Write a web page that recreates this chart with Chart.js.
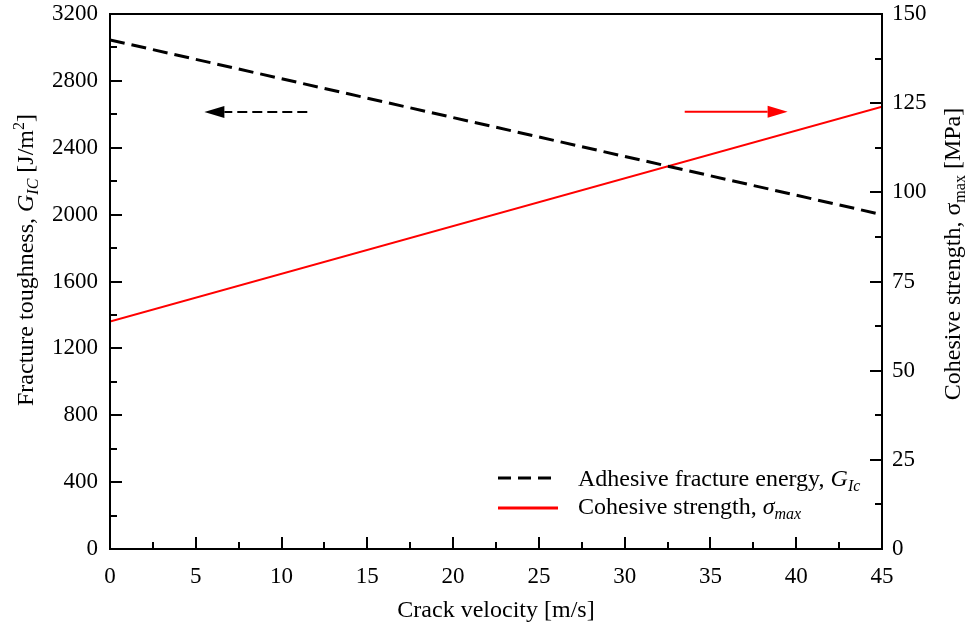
<!DOCTYPE html>
<html><head><meta charset="utf-8">
<script src="https://cdn.jsdelivr.net/npm/chart.js@4"></script>
<style>html,body{margin:0;padding:0;background:#fff}#c{display:block}</style>
</head><body>
<canvas id="c" width="966" height="626"></canvas>
<script>
const velocity = [0, 45];
const fractureEnergy = [3045, 2000];      // J/m^2, left axis
const cohesiveStrength = [63.8, 124];     // MPa, right axis
const xTicks = [0, 5, 10, 15, 20, 25, 30, 35, 40, 45];
const leftTicks = [0, 400, 800, 1200, 1600, 2000, 2400, 2800, 3200];
const rightTicks = [0, 25, 50, 75, 100, 125, 150];
const arrowLeft = {from: 11.5, to: 5.5, y: 2614};
const arrowRight = {from: 33.5, to: 39.5, y: 122.6};

const FONT = '"Liberation Serif", "Times New Roman", serif';
const BASE = 24, SMALL = 16;

function richText(ctx, parts, x, y, align) {
  const widths = parts.map(p => {
    const s = (p.sub || p.sup) ? SMALL : BASE;
    ctx.font = (p.italic ? 'italic ' : '') + s + 'px ' + FONT;
    return ctx.measureText(p.t).width;
  });
  const total = widths.reduce((a, b) => a + b, 0);
  let cx = align === 'center' ? x - total / 2 : x;
  parts.forEach((p, i) => {
    const s = (p.sub || p.sup) ? SMALL : BASE;
    ctx.font = (p.italic ? 'italic ' : '') + s + 'px ' + FONT;
    ctx.textAlign = 'left';
    ctx.textBaseline = 'alphabetic';
    let dy = 0;
    if (p.sub) dy = 5;
    if (p.sup) dy = -9;
    ctx.fillText(p.t, cx, y + dy);
    cx += widths[i];
  });
}

function arrow(ctx, x1, x2, y, color, dash) {
  const dir = Math.sign(x2 - x1);
  const headLen = 20, headW = 6;
  ctx.save();
  ctx.strokeStyle = color; ctx.fillStyle = color; ctx.lineWidth = 2;
  ctx.setLineDash(dash);
  ctx.beginPath(); ctx.moveTo(x1, y); ctx.lineTo(x2 - dir * headLen, y); ctx.stroke();
  ctx.setLineDash([]);
  ctx.beginPath();
  ctx.moveTo(x2, y);
  ctx.lineTo(x2 - dir * headLen, y - headW);
  ctx.lineTo(x2 - dir * headLen, y + headW);
  ctx.closePath(); ctx.fill();
  ctx.restore();
}

const decor = {
  id: 'decor',
  afterDraw(chart) {
    const ctx = chart.ctx;
    const a = chart.chartArea;
    const xs = chart.scales.x, yl = chart.scales.y, yr = chart.scales.y1;
    ctx.save();
    ctx.strokeStyle = '#000'; ctx.lineWidth = 2;
    ctx.beginPath();
    for (let v = 0; v <= 45.001; v += 2.5) {
      const px = Math.round(xs.getPixelForValue(v));
      const major = Math.abs(v % 5) < 1e-6;
      const L = major ? 12 : 7;
      ctx.moveTo(px, a.bottom); ctx.lineTo(px, a.bottom - L);
    }
    for (let v = 0; v <= 3200.1; v += 200) {
      const py = Math.round(yl.getPixelForValue(v));
      const L = (v % 400 === 0) ? 12 : 7;
      ctx.moveTo(a.left, py); ctx.lineTo(a.left + L, py);
    }
    for (let v = 0; v <= 150.1; v += 12.5) {
      const py = Math.round(yr.getPixelForValue(v));
      const L = (v % 25 === 0) ? 12 : 7;
      ctx.moveTo(a.right, py); ctx.lineTo(a.right - L, py);
    }
    ctx.stroke();
    ctx.strokeRect(a.left, a.top, a.right - a.left, a.bottom - a.top);

    arrow(ctx, xs.getPixelForValue(arrowLeft.from), xs.getPixelForValue(arrowLeft.to),
          yl.getPixelForValue(arrowLeft.y), '#000', [10, 5]);
    arrow(ctx, xs.getPixelForValue(arrowRight.from), xs.getPixelForValue(arrowRight.to),
          yr.getPixelForValue(arrowRight.y), '#ff0000', []);

    // legend
    ctx.lineWidth = 3; ctx.strokeStyle = '#000'; ctx.setLineDash([13, 7]);
    ctx.beginPath(); ctx.moveTo(498, 478); ctx.lineTo(558, 478); ctx.stroke();
    ctx.setLineDash([]); ctx.strokeStyle = '#ff0000'; ctx.lineWidth = 3;
    ctx.beginPath(); ctx.moveTo(498, 508); ctx.lineTo(558, 508); ctx.stroke();
    ctx.fillStyle = '#000';
    richText(ctx, [{t: 'Adhesive fracture energy, '}, {t: 'G', italic: true}, {t: 'Ic', italic: true, sub: true}], 578, 486, 'left');
    richText(ctx, [{t: 'Cohesive strength, '}, {t: 'σ', italic: true}, {t: 'max', italic: true, sub: true}], 578, 514, 'left');

    richText(ctx, [{t: 'Crack velocity [m/s]'}], 496, 617, 'center');
    ctx.save();
    ctx.translate(33, 260); ctx.rotate(-Math.PI / 2);
    richText(ctx, [{t: 'Fracture toughness, '}, {t: 'G', italic: true}, {t: 'IC', italic: true, sub: true}, {t: ' [J/m'}, {t: '2', sup: true}, {t: ']'}], 0, 0, 'center');
    ctx.restore();
    ctx.save();
    ctx.translate(960, 254); ctx.rotate(-Math.PI / 2);
    richText(ctx, [{t: 'Cohesive strength, σ'}, {t: 'max', sub: true}, {t: ' [MPa]'}], 0, 0, 'center');
    ctx.restore();
    ctx.restore();
  }
};

const tickFont = {family: FONT, size: 23};
const fmt = v => String(v);
new Chart(document.getElementById('c'), {
  type: 'scatter',
  data: {
    datasets: [
      {label: 'Adhesive fracture energy', data: velocity.map((v, i) => ({x: v, y: fractureEnergy[i]})),
       showLine: true, borderColor: '#000', borderWidth: 3, borderDash: [15, 7], pointRadius: 0, yAxisID: 'y'},
      {label: 'Cohesive strength', data: velocity.map((v, i) => ({x: v, y: cohesiveStrength[i]})),
       showLine: true, borderColor: '#ff0000', borderWidth: 2, pointRadius: 0, yAxisID: 'y1'}
    ]
  },
  options: {
    responsive: false, animation: false,
    layout: {padding: {top: 14, left: 0, right: 0, bottom: 0}},
    plugins: {legend: {display: false}, tooltip: {enabled: false}},
    scales: {
      x: {type: 'linear', min: 0, max: 45,
          afterBuildTicks: s => { s.ticks = xTicks.map(v => ({value: v})); },
          afterFit: s => { s.height = 77; s.paddingLeft = 0; s.paddingRight = 0; },
          ticks: {font: tickFont, color: '#000', padding: 14, maxRotation: 0, autoSkip: false, callback: fmt},
          grid: {display: false, drawTicks: false}, border: {display: false}},
      y: {type: 'linear', position: 'left', min: 0, max: 3200,
          afterBuildTicks: s => { s.ticks = leftTicks.map(v => ({value: v})); },
          afterFit: s => { s.width = 110; s.paddingTop = 0; s.paddingBottom = 0; },
          ticks: {font: tickFont, color: '#000', padding: 12, autoSkip: false, callback: fmt},
          grid: {display: false, drawTicks: false}, border: {display: false}},
      y1: {type: 'linear', position: 'right', min: 0, max: 150,
          afterBuildTicks: s => { s.ticks = rightTicks.map(v => ({value: v})); },
          afterFit: s => { s.width = 84; s.paddingTop = 0; s.paddingBottom = 0; },
          ticks: {font: tickFont, color: '#000', padding: 10, autoSkip: false, callback: fmt},
          grid: {display: false, drawTicks: false}, border: {display: false}}
    }
  },
  plugins: [decor]
});
</script>
</body></html>
